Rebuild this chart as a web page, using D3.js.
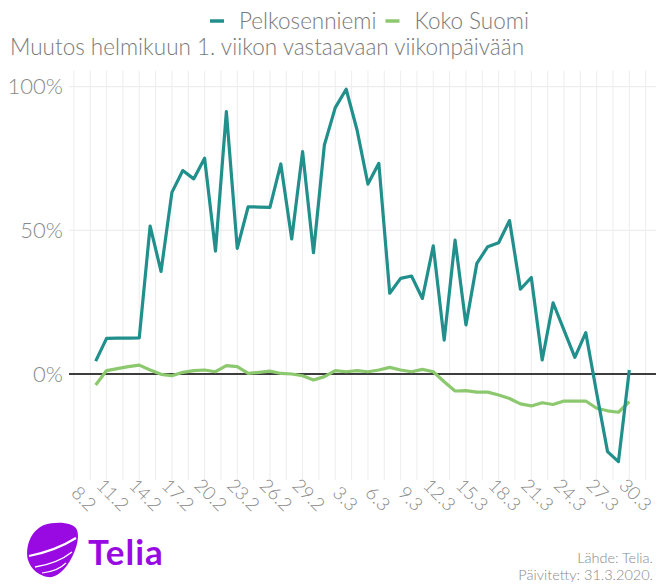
<!DOCTYPE html>
<html>
<head>
<meta charset="utf-8">
<script src="https://cdn.jsdelivr.net/npm/d3@7"></script>
<style>
  body { margin: 0; background: #fff; }
  text { font-family: Lato, "Open Sans", sans-serif; font-weight: 300; }
</style>
</head>
<body>
<div id="chart"></div>
<script>
// Data (percent change vs. 1st week of February, same weekday)
var dates = ["10.2","11.2","12.2","13.2","14.2","15.2","16.2","17.2","18.2","19.2",
    "20.2","21.2","22.2","23.2","24.2","25.2","26.2","27.2","28.2","29.2",
    "1.3","2.3","3.3","4.3","5.3","6.3","7.3","8.3","9.3","10.3",
    "11.3","12.3","13.3","14.3","15.3","16.3","17.3","18.3","19.3","20.3",
    "21.3","22.3","23.3","24.3","25.3","26.3","27.3","28.3","29.3","30.3"];
var pelkosenniemi = [4.5, 12.4, 12.5, 12.5, 12.6, 51.5, 35.7, 63.2, 70.8, 67.9,
    75.1, 42.8, 91.3, 43.7, 58.2, 58.1, 58.0, 73.1, 47.0, 77.4,
    42.2, 79.7, 92.7, 99.1, 84.9, 66.1, 73.3, 28.1, 33.3, 34.1,
    26.3, 44.6, 11.8, 46.6, 17.1, 38.5, 44.3, 45.7, 53.4, 29.5,
    33.6, 4.9, 24.8, 15.3, 5.8, 14.4, -6.6, -27.0, -30.5, 1.4];
var kokoSuomi = [-3.8, 1.2, 1.9, 2.6, 3.1, 1.4, -0.1, -0.6, 0.6, 1.2,
    1.4, 0.8, 2.9, 2.6, 0.2, 0.6, 1.0, 0.2, 0.0, -0.6,
    -2.1, -0.9, 1.2, 0.8, 1.2, 0.8, 1.4, 2.3, 1.4, 0.8,
    1.6, 0.8, -2.7, -5.9, -5.8, -6.3, -6.3, -7.3, -8.5, -10.4,
    -11.1, -10.0, -10.6, -9.4, -9.4, -9.4, -11.9, -12.8, -13.3, -9.6];
var seriesNames = ["Pelkosenniemi", "Koko Suomi"];
var seriesColors = ["#21908c", "#8cc86e"];
var xTickLabels = ["8.2","11.2","14.2","17.2","20.2","23.2","26.2","29.2","3.3",
    "6.3","9.3","12.3","15.3","18.3","21.3","24.3","27.3","30.3"];
var yTicks = [0, 50, 100];

var width = 657, height = 584;
var panel = {left: 69, right: 656, top: 70.6, bottom: 480.3};
var textColor = "#7a7a7a";

var svg = d3.select("#chart").append("svg")
    .attr("width", width)
    .attr("height", height);

var parseDate = s => d3.timeParse("%d.%m.%Y")(s + ".2020");
var dayList = dates.map(parseDate);

// Scales with ggplot-like 5% expansion
var xExt = d3.extent(dayList);
var xPad = (xExt[1] - xExt[0]) * 0.05;
var xScale = d3.scaleTime()
    .domain([new Date(+xExt[0] - xPad), new Date(+xExt[1] + xPad)])
    .range([panel.left, panel.right]);

var yExt = d3.extent(pelkosenniemi.concat(kokoSuomi));
var yPad = (yExt[1] - yExt[0]) * 0.05;
var yScale = d3.scaleLinear()
    .domain([yExt[0] - yPad, yExt[1] + yPad])
    .range([panel.bottom, panel.top]);

// Grid
var gridG = svg.append("g").attr("class", "grid");
var tickDates = xTickLabels.map(parseDate);
var halfStep = (tickDates[1] - tickDates[0]) / 2;
var gridDates = [];
for (var t = +tickDates[0]; t <= +xScale.domain()[1]; t += halfStep) gridDates.push(new Date(t));

gridG.selectAll(".vgrid")
    .data(gridDates)
    .enter().append("line")
    .attr("x1", d => xScale(d)).attr("x2", d => xScale(d))
    .attr("y1", panel.top).attr("y2", panel.bottom)
    .style("stroke", "#ededed")
    .style("stroke-width", 1);

gridG.selectAll(".hgrid")
    .data(yTicks)
    .enter().append("line")
    .attr("x1", panel.left).attr("x2", panel.right)
    .attr("y1", d => yScale(d)).attr("y2", d => yScale(d))
    .style("stroke", "#ededed")
    .style("stroke-width", 1.4);

// Zero line
svg.append("line")
    .attr("x1", panel.left).attr("x2", panel.right)
    .attr("y1", yScale(0)).attr("y2", yScale(0))
    .style("stroke", "#000")
    .style("stroke-width", 1.3);

// Axes (labels only)
var yAxis = d3.axisLeft(yScale)
    .tickValues(yTicks)
    .tickFormat(d => d + "%")
    .tickSize(0)
    .tickPadding(6);
var yAxisG = svg.append("g")
    .attr("transform", "translate(" + panel.left + ",0)")
    .call(yAxis);
yAxisG.select(".domain").remove();
yAxisG.selectAll("text")
    .style("font-family", "Lato, sans-serif")
    .style("font-weight", 300)
    .style("font-size", "22px")
    .style("fill", "#888");

var xAxis = d3.axisBottom(xScale)
    .tickValues(tickDates)
    .tickFormat((d, i) => xTickLabels[i])
    .tickSize(0);
var xAxisG = svg.append("g")
    .attr("transform", "translate(0," + panel.bottom + ")")
    .call(xAxis);
xAxisG.select(".domain").remove();
xAxisG.selectAll("text")
    .attr("y", 0).attr("dy", 0)
    .attr("transform", "translate(14,32) rotate(45)")
    .style("text-anchor", "end")
    .style("font-family", "Lato, sans-serif")
    .style("font-weight", 300)
    .style("font-size", "18.5px")
    .style("fill", "#888");

// Lines
var series = [pelkosenniemi, kokoSuomi];
var line = d3.line()
    .x((d, i) => xScale(dayList[i]))
    .y(d => yScale(d));

svg.selectAll(".series")
    .data([1, 0])
    .enter().append("path")
    .attr("class", "series")
    .attr("d", k => line(series[k]))
    .style("fill", "none")
    .style("stroke", k => seriesColors[k])
    .style("stroke-width", 3.2)
    .style("stroke-linejoin", "round")
    .style("stroke-linecap", "butt");

// Legend
var legendG = svg.append("g").attr("transform", "translate(210,21)");
var lx = 0;
seriesNames.forEach(function(name, i) {
    legendG.append("line")
        .attr("x1", lx).attr("x2", lx + 14)
        .attr("y1", 0).attr("y2", 0)
        .style("stroke", seriesColors[i])
        .style("stroke-width", 3.5);
    var t = legendG.append("text")
        .attr("x", lx + 29)
        .attr("y", 8)
        .style("font-size", "22.5px")
        .style("fill", textColor)
        .text(name);
    lx += 29 + t.node().getComputedTextLength() + 9;
});

// Title
svg.append("text")
    .attr("x", 10)
    .attr("y", 55)
    .style("font-size", "22.5px")
    .style("fill", textColor)
    .text("Muutos helmikuun 1. viikon vastaavaan viikonpäivään");

// Source
svg.append("text")
    .attr("x", 653).attr("y", 563)
    .style("text-anchor", "end")
    .style("font-size", "14.5px")
    .style("fill", "#888")
    .text("Lähde: Telia.");
svg.append("text")
    .attr("x", 653).attr("y", 580)
    .style("text-anchor", "end")
    .style("font-size", "14.5px")
    .style("fill", "#888")
    .text("Päivitetty: 31.3.2020.");

// Telia logo
var logo = svg.append("g").attr("transform", "translate(26,522)");
var purple = "#990ae3";
logo.append("path")
    .attr("d", "M18,3 C30,-1 48,0 51,8 C54,16 50,30 42,42 C36,51 28,56 22,55 C14,54 5,48 2,38 C-1,26 4,9 18,3 Z")
    .style("fill", purple);
logo.append("path")
    .attr("d", "M3,34 C18,31 34,26 50,16")
    .style("fill", "none")
    .style("stroke", "#fff")
    .style("stroke-width", 2.2);
logo.append("path")
    .attr("d", "M9,45 C22,43 36,38 46,30")
    .style("fill", "none")
    .style("stroke", "#fff")
    .style("stroke-width", 1.4);
logo.append("path")
    .attr("d", "M16,51 C26,50 34,47 40,41")
    .style("fill", "none")
    .style("stroke", "#fff")
    .style("stroke-width", 1.1);
logo.append("text")
    .attr("x", 62)
    .attr("y", 43)
    .style("font-family", "Lato, sans-serif")
    .style("font-weight", 700)
    .style("font-size", "35px")
    .style("letter-spacing", "1px")
    .style("fill", purple)
    .text("Telia");
</script>
</body>
</html>
